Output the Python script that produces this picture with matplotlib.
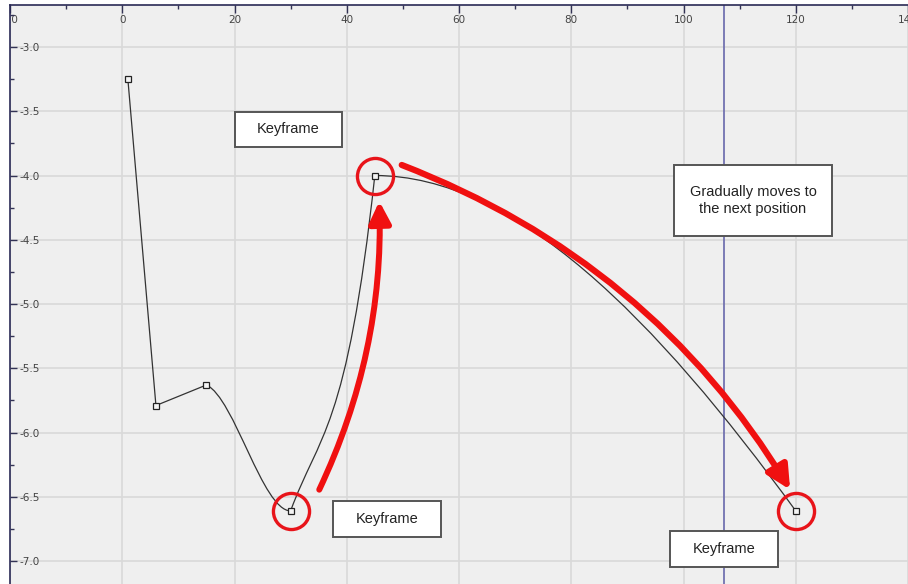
import matplotlib
matplotlib.use("Agg")
import matplotlib.pyplot as plt
from matplotlib.path import Path
from matplotlib.patches import PathPatch, Rectangle, FancyArrowPatch
from matplotlib.ticker import MultipleLocator

# ---- data ----
frames = [1, 6, 15, 30, 45, 120]
values = [-3.25, -5.79, -5.63, -6.61, -4.0, -6.61]
# tangent slopes per segment (None = linear)
seg_out_slope = [None, None, -0.02, 0.12, 0.0]
seg_in_slope = [None, None, 0.0, 0.40, -0.06]
highlight_frames = [30, 45, 120]
highlight_values = [-6.61, -4.0, -6.61]
current_frame = 107.2
x_ticks = [-20, 0, 20, 40, 60, 80, 100, 120, 140]
y_ticks = [-3.0, -3.5, -4.0, -4.5, -5.0, -5.5, -6.0, -6.5, -7.0]

W, H = 908, 584
fig = plt.figure(figsize=(W / 100, H / 100), dpi=100)
fig.patch.set_facecolor("white")
ax = fig.add_axes([10 / W, 0, (W - 10) / W, (H - 5) / H])
ax.set_facecolor("#efefef")
ax.set_xlim(-19.78, 139.24)
ax.set_ylim(-7.179, -2.673)

# grid
ax.set_xticks(x_ticks)
ax.set_yticks(y_ticks)
ax.xaxis.set_minor_locator(MultipleLocator(10))
ax.yaxis.set_minor_locator(MultipleLocator(0.25))
ax.grid(True, which="major", color="#d9d9d9", lw=1.2, zorder=0)
ax.set_axisbelow(True)

ax.xaxis.tick_top()
ax.set_xticklabels([f"{v}" for v in x_ticks])
ax.set_yticklabels([f"{v:.1f}" for v in y_ticks])
ax.tick_params(axis="x", which="major", direction="in", length=6, width=1,
               color="#333355", pad=-7.0, labelsize=7.5, labelcolor="#444444")
ax.tick_params(axis="x", which="minor", direction="in", length=3, width=1,
               color="#333355")
ax.tick_params(axis="y", which="major", direction="in", length=5, width=1,
               color="#333355", pad=-6.5, labelsize=7.5, labelcolor="#444444")
ax.tick_params(axis="y", which="minor", direction="in", length=3, width=1,
               color="#333355")
for lab in ax.get_xticklabels():
    lab.set_va("top")
    lab.set_clip_box(ax.bbox)
    lab.set_clip_on(True)
for lab in ax.get_yticklabels():
    lab.set_ha("left")
for s in ["right", "bottom"]:
    ax.spines[s].set_visible(False)
for s in ["left", "top"]:
    ax.spines[s].set_color("#2a2a55")
    ax.spines[s].set_linewidth(1.2)

# current frame line
ax.axvline(current_frame, color="#7272b0", lw=1.3, zorder=2)

# curve built from keyframes (cubic bezier segments)
verts = [(frames[0], values[0])]
codes = [Path.MOVETO]
for i in range(len(frames) - 1):
    x0, y0, x1, y1 = frames[i], values[i], frames[i + 1], values[i + 1]
    h = x1 - x0
    lin = (y1 - y0) / h
    m0 = lin if seg_out_slope[i] is None else seg_out_slope[i]
    m1 = lin if seg_in_slope[i] is None else seg_in_slope[i]
    verts += [(x0 + h / 3, y0 + m0 * h / 3), (x1 - h / 3, y1 - m1 * h / 3), (x1, y1)]
    codes += [Path.CURVE4] * 3
ax.add_patch(PathPatch(Path(verts, codes), fill=False, ec="#333333", lw=0.9, zorder=3))

ax.plot(frames, values, ls="none", marker="s", ms=4.3, mfc="#f4f4f4",
        mec="#222222", mew=0.9, zorder=4)

# red circles
ax.plot(highlight_frames, highlight_values, ls="none", marker="o", ms=26,
        mfc="none", mec="#e8141a", mew=2.4, zorder=5)

# red arrows
a1 = FancyArrowPatch((35.1, -6.445), (45.8, -4.2), connectionstyle="arc3,rad=0.12",
                     arrowstyle="-|>,head_length=1.3,head_width=0.65", mutation_scale=10,
                     color="#f01010", lw=4.3, shrinkA=0, shrinkB=0, zorder=6)
a2 = FancyArrowPatch((49.8, -3.918), (119.0, -6.445), connectionstyle="arc3,rad=-0.17",
                     arrowstyle="-|>,head_length=1.4,head_width=0.7", mutation_scale=10,
                     color="#f01010", lw=4.5, shrinkA=0, shrinkB=0, zorder=6)
ax.add_patch(a1)
ax.add_patch(a2)

# text boxes (pixel layout)
def box(x0, y0, x1, y1, text):
    fig.patches.append(Rectangle((x0 / W, 1 - y1 / H), (x1 - x0) / W, (y1 - y0) / H,
                                 transform=fig.transFigure, fc="white", ec="#555555",
                                 lw=1.4, zorder=10))
    fig.text((x0 + x1) / 2 / W, 1 - (y0 + y1) / 2 / H, text, ha="center", va="center",
             fontsize=10.5, family="Liberation Sans", color="#222222",
             linespacing=1.25, zorder=11)

box(235, 112, 342, 147, "Keyframe")
box(333, 501, 441, 537, "Keyframe")
box(670, 531, 778, 567, "Keyframe")
box(674, 165, 832, 236, "Gradually moves to\nthe next position")

fig.savefig("out.png", dpi=100)
